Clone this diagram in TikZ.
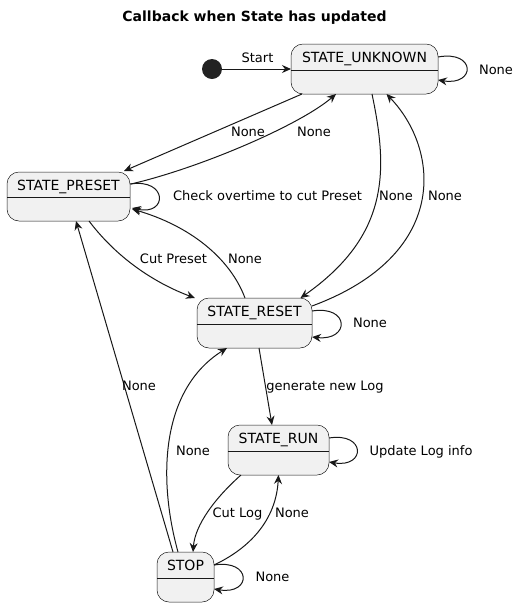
\documentclass[tikz,border=0pt]{standalone}
\usepackage{fontspec}
\setmainfont{DejaVu Sans}
\usetikzlibrary{arrows.meta,calc}
\definecolor{umlline}{HTML}{181818}
\definecolor{umlfill}{HTML}{F1F1F1}
\definecolor{umldot}{HTML}{222222}

\begin{document}
\begin{tikzpicture}[x=0.75pt,y=-0.75pt,
  statebox/.style={draw=umlline,fill=umlfill,line width=0.375pt,rounded corners=9pt,inner sep=0pt,outer sep=0pt,minimum height=37.5pt},
  statename/.style={font=\fontsize{10.5}{12}\selectfont,inner sep=0pt,text height=7.7pt,text depth=0pt},
  trans/.style={draw=umlline,line width=0.75pt,-{Stealth[length=6.75pt,width=6pt,inset=2.25pt]}},
  tlabel/.style={font=\fontsize{9.75}{11}\selectfont,inner sep=0pt,text height=7.1pt,text depth=0pt}]

  \useasboundingbox (0,0) rectangle (525,608);

  \node[font=\bfseries\fontsize{10.5}{12}\selectfont,inner sep=0pt] (title) at (254.5,18) {Callback when State has updated};

  % states
  \node[circle,fill=umldot,minimum size=15pt,inner sep=0pt,outer sep=0pt] (start) at (212,69) {};
  \node[statebox,minimum width=110.25pt] (unknown) at (364.5,69) {};
  \node[statebox,minimum width=92.25pt,minimum height=36.75pt] (preset) at (68.5,196.5) {};
  \node[statebox,minimum width=86.25pt] (reset) at (254.5,323) {};
  \node[statebox,minimum width=75.75pt] (run) at (278.5,450) {};
  \node[statebox,minimum width=42.75pt] (stop) at (185.5,577) {};

  \foreach \s/\t in {unknown/STATE\_UNKNOWN,preset/STATE\_PRESET,reset/STATE\_RESET,run/STATE\_RUN,stop/STOP}
  {
    \node[statename] (\s name) at ($(\s.north)+(0,13.5)$) {\t};
    \draw[umlline,line width=0.375pt] ($(\s.west)+(0,1)$) -- ($(\s.east)+(0,1)$);
  }

  % transitions
  \draw[trans] (start) -- (unknown.west);
  \node[tlabel] (lStart) at (257.5,58) {Start};

  \draw[trans] ($(unknown.east)+(0,-12)$) .. controls (476,50) and (476,86) .. ($(unknown.east)+(0,11)$);
  \node[tlabel] (lUnknownSelf) at (496,70) {None};

  \draw[trans] ($(unknown.south)+(-62.5,0)$) -- ($(preset.north)+(55.5,-1)$);
  \node[tlabel] (lUnknownPreset) at (248,132) {None};

  \draw[trans] ($(preset.east)+(1,-12.5)$) .. controls (200,168) and (300,125) .. ($(unknown.south)+(-28.5,0)$);
  \node[tlabel] (lPresetUnknown) at (314,132) {None};

  \draw[trans] ($(unknown.south)+(7.5,0)$) .. controls (388,170) and (390,235) .. ($(reset.north)+(46,0)$);
  \node[tlabel] (lUnknownReset) at (396,196) {None};

  \draw[trans] ($(reset.east)+(0,-17)$) .. controls (450,255) and (440,150) .. ($(unknown.south)+(22,0)$);
  \node[tlabel] (lResetUnknown) at (445,196) {None};

  \draw[trans] ($(preset.east)+(0,-12.5)$) .. controls (168,178) and (168,216) .. ($(preset.east)+(2,11.5)$);
  \node[tlabel] (lPresetSelf) at (267.5,196) {Check overtime to cut Preset};

  \draw[trans] ($(preset.south)+(20.5,0)$) .. controls (120,262) and (160,285) .. ($(reset.north west)+(-2,0)$);
  \node[tlabel] (lPresetReset) at (173.5,259) {Cut Preset};

  \draw[trans] ($(reset.north)+(-9.5,0)$) .. controls (230,258) and (190,226) .. ($(preset.east)+(2,12.5)$);
  \node[tlabel] (lResetPreset) at (245,259) {None};

  \draw[trans] ($(reset.east)+(0,-12)$) .. controls (350,305) and (350,341) .. ($(reset.east)+(0,14)$);
  \node[tlabel] (lResetSelf) at (370,323) {None};

  \draw[trans] ($(reset.south)+(4.5,0)$) -- ($(run.north)+(-6.5,0)$);
  \node[tlabel] (lResetRun) at (325,386) {generate new Log};

  \draw[trans] ($(stop.north)+(-7.5,0)$) .. controls (158,480) and (160,390) .. ($(reset.south)+(-27.5,0)$);
  \node[tlabel] (lStopReset) at (193,451) {None};

  \draw[trans] ($(stop.north)+(-12.5,0)$) -- ($(preset.south)+(7.5,0)$);
  \node[tlabel] (lStopPreset) at (139,386) {None};

  \draw[trans] ($(run.east)+(0,-12)$) .. controls (366,432) and (366,468) .. ($(run.east)+(0,12)$);
  \node[tlabel] (lRunSelf) at (421,451) {Update Log info};

  \draw[trans] ($(run.south)+(-37.5,0)$) .. controls (215,498) and (195,525) .. ($(stop.north)+(7.5,0)$);
  \node[tlabel] (lRunStop) at (237.5,513) {Cut Log};

  \draw[trans] ($(stop.east)+(0,-12)$) .. controls (250,548) and (276,520) .. (run.south);
  \node[tlabel] (lStopRun) at (292,513) {None};

  \draw[trans] ($(stop.east)+(0,-12)$) .. controls (252,559) and (252,595) .. ($(stop.east)+(0,12)$);
  \node[tlabel] (lStopSelf) at (272.5,577) {None};
\end{tikzpicture}
\end{document}
